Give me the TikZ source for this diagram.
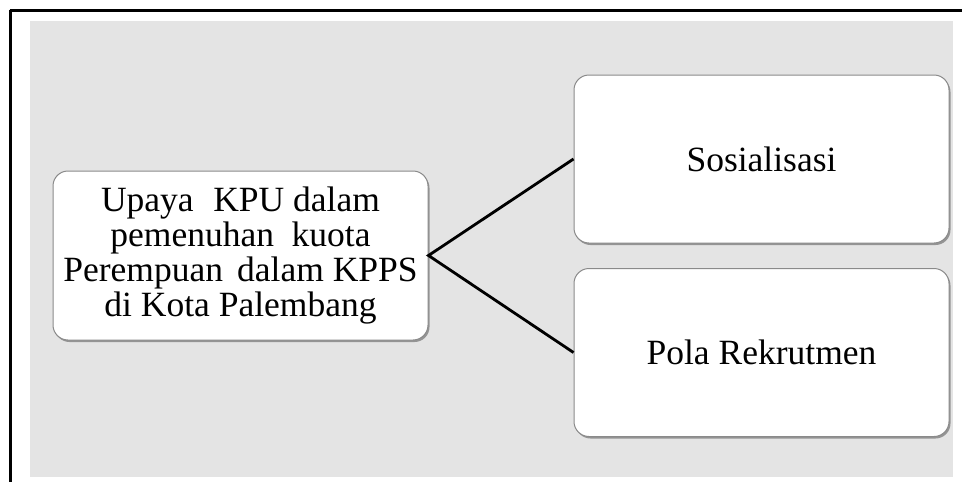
\documentclass[tikz,border=0pt]{standalone}
\usepackage{fontspec}
\setmainfont{Liberation Serif}
\usetikzlibrary{shadows}
\definecolor{bggray}{HTML}{E4E4E4}
\definecolor{boxline}{HTML}{8A8A8A}
\begin{document}
\begin{tikzpicture}[x=1pt,y=-1pt,
  box/.style={draw=boxline, line width=1pt, fill=white, rounded corners=15pt,
    minimum width=375pt, minimum height=168pt, inner sep=0pt, align=center,
    font=\fontsize{35.5}{35}\selectfont,
    drop shadow={shadow xshift=1.5pt, shadow yshift=-2pt, fill=black, opacity=0.35}},
  conn/.style={line width=2.8pt, black},
  frameline/.style={line width=2.5pt, black}]
\useasboundingbox (0,0) rectangle (962,482);
\fill[bggray] (30,21) rectangle (953,477);
\draw[frameline] (10.5,9.5) -- (10.5,482);
\draw[frameline] (9.5,10.5) -- (962,10.5);
\node[box, minimum height=169pt] (L) at (240.5,255.5)
  {Upaya\hspace{0.3em} KPU dalam\\pemenuhan\hspace{0.25em} kuota\\Perempuan\hspace{0.15em} dalam KPPS\\di Kota Palembang};
\node[box] (S) at (761.5,159) {Sosialisasi};
\node[box] (P) at (761.5,352.5) {Pola Rekrutmen};
\draw[conn] (S.west) -- (L.east) -- (P.west);
\end{tikzpicture}
\end{document}
